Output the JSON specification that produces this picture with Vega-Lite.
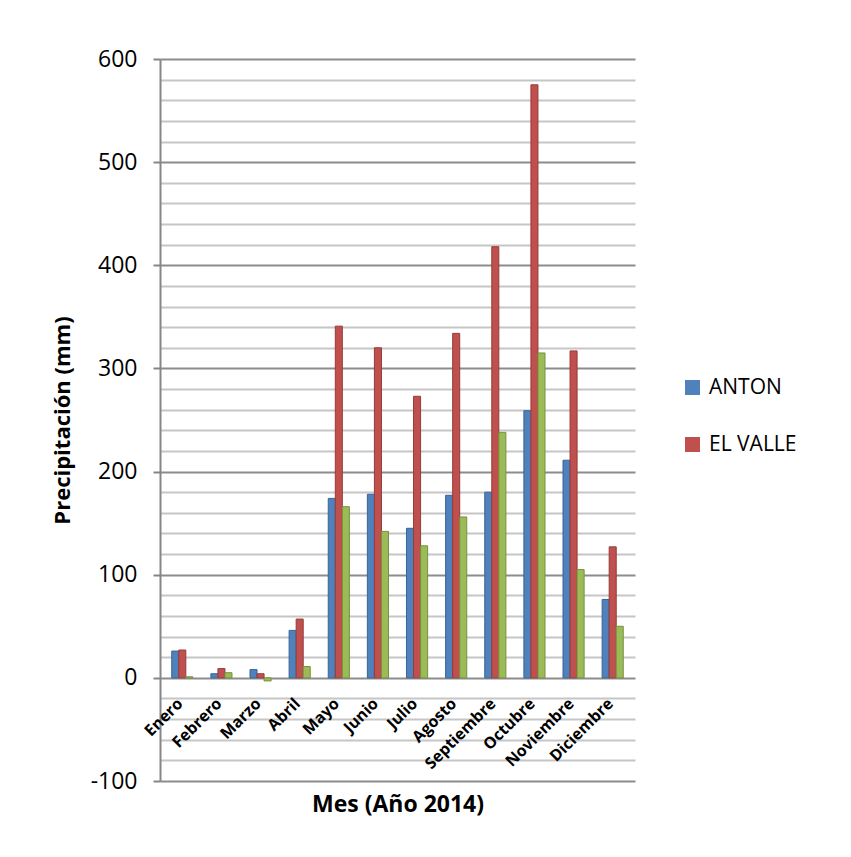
{
  "$schema": "https://vega.github.io/schema/vega-lite/v6.json",
  "width": 475,
  "height": 722,
  "autosize": {"type": "none"},
  "padding": {"left": 160, "top": 59, "right": 216, "bottom": 76},
  "background": "white",
  "config": {"font": "Open Sans", "view": {"stroke": null}},
  "datasets": {
    "lluvia": [
      {"mes": "Enero", "serie": "ANTON", "valor": 26},
      {"mes": "Enero", "serie": "EL VALLE", "valor": 27},
      {"mes": "Enero", "serie": "Serie3", "valor": 1},
      {"mes": "Febrero", "serie": "ANTON", "valor": 4},
      {"mes": "Febrero", "serie": "EL VALLE", "valor": 9},
      {"mes": "Febrero", "serie": "Serie3", "valor": 5},
      {"mes": "Marzo", "serie": "ANTON", "valor": 8},
      {"mes": "Marzo", "serie": "EL VALLE", "valor": 4},
      {"mes": "Marzo", "serie": "Serie3", "valor": -3},
      {"mes": "Abril", "serie": "ANTON", "valor": 46},
      {"mes": "Abril", "serie": "EL VALLE", "valor": 57},
      {"mes": "Abril", "serie": "Serie3", "valor": 11},
      {"mes": "Mayo", "serie": "ANTON", "valor": 174},
      {"mes": "Mayo", "serie": "EL VALLE", "valor": 341},
      {"mes": "Mayo", "serie": "Serie3", "valor": 166},
      {"mes": "Junio", "serie": "ANTON", "valor": 178},
      {"mes": "Junio", "serie": "EL VALLE", "valor": 320},
      {"mes": "Junio", "serie": "Serie3", "valor": 142},
      {"mes": "Julio", "serie": "ANTON", "valor": 145},
      {"mes": "Julio", "serie": "EL VALLE", "valor": 273},
      {"mes": "Julio", "serie": "Serie3", "valor": 128},
      {"mes": "Agosto", "serie": "ANTON", "valor": 177},
      {"mes": "Agosto", "serie": "EL VALLE", "valor": 334},
      {"mes": "Agosto", "serie": "Serie3", "valor": 156},
      {"mes": "Septiembre", "serie": "ANTON", "valor": 180},
      {"mes": "Septiembre", "serie": "EL VALLE", "valor": 418},
      {"mes": "Septiembre", "serie": "Serie3", "valor": 238},
      {"mes": "Octubre", "serie": "ANTON", "valor": 259},
      {"mes": "Octubre", "serie": "EL VALLE", "valor": 575},
      {"mes": "Octubre", "serie": "Serie3", "valor": 315},
      {"mes": "Noviembre", "serie": "ANTON", "valor": 211},
      {"mes": "Noviembre", "serie": "EL VALLE", "valor": 317},
      {"mes": "Noviembre", "serie": "Serie3", "valor": 105},
      {"mes": "Diciembre", "serie": "ANTON", "valor": 76},
      {"mes": "Diciembre", "serie": "EL VALLE", "valor": 127},
      {"mes": "Diciembre", "serie": "Serie3", "valor": 50}
    ],
    "meses": [
      {"mes": "Enero"}, {"mes": "Febrero"}, {"mes": "Marzo"}, {"mes": "Abril"},
      {"mes": "Mayo"}, {"mes": "Junio"}, {"mes": "Julio"}, {"mes": "Agosto"},
      {"mes": "Septiembre"}, {"mes": "Octubre"}, {"mes": "Noviembre"}, {"mes": "Diciembre"}
    ]
  },
  "layer": [
    {
      "data": {"name": "lluvia"},
      "mark": {"type": "bar", "strokeWidth": 1},
      "encoding": {
        "x": {
          "field": "mes",
          "type": "nominal",
          "sort": ["Enero", "Febrero", "Marzo", "Abril", "Mayo", "Junio", "Julio", "Agosto", "Septiembre", "Octubre", "Noviembre", "Diciembre"],
          "scale": {"paddingInner": 0.46, "paddingOuter": 0.3},
          "axis": {
            "title": "Mes (Año 2014)",
            "labels": false,
            "ticks": false,
            "domain": false,
            "titleFont": "Open Sans",
            "titleFontSize": 23,
            "titleFontWeight": "bold",
            "titleColor": "black",
            "titlePadding": 12
          }
        },
        "xOffset": {"field": "serie", "type": "nominal", "sort": ["ANTON", "EL VALLE", "Serie3"]},
        "y": {
          "field": "valor",
          "type": "quantitative",
          "scale": {"domain": [-100, 600], "nice": false, "zero": false},
          "axis": {
            "title": "Precipitación (mm)",
            "titleFont": "Open Sans",
            "titleFontSize": 22,
            "titleFontWeight": "bold",
            "titleColor": "black",
            "titlePadding": 16,
            "tickCount": 60,
            "values": [-100, -80, -60, -40, -20, 0, 20, 40, 60, 80, 100, 120, 140, 160, 180, 200, 220, 240, 260, 280, 300, 320, 340, 360, 380, 400, 420, 440, 460, 480, 500, 520, 540, 560, 580, 600],
            "labelExpr": "datum.value % 100 === 0 ? '' + datum.value : ''",
            "labelFont": "Open Sans",
            "labelFontSize": 23,
            "labelColor": "black",
            "labelPadding": 16,
            "labelFlush": false,
            "labelOverlap": false,
            "tickSize": 7,
            "tickWidth": 2,
            "tickColor": "#868686",
            "tickOpacity": {"condition": {"test": "datum.value % 100 === 0", "value": 1}, "value": 0},
            "domainColor": "#868686",
            "domainWidth": 2,
            "grid": true,
            "gridWidth": 2,
            "gridColor": {"condition": {"test": "datum.value % 100 === 0", "value": "#8c8c8c"}, "value": "#c6c6c6"}
          }
        },
        "color": {
          "field": "serie",
          "type": "nominal",
          "scale": {"domain": ["ANTON", "EL VALLE", "Serie3"], "range": ["#4F81BD", "#C0504D", "#9BBB59"]},
          "legend": {
            "values": ["ANTON", "EL VALLE"],
            "orient": "none",
            "legendX": 522,
            "legendY": 318,
            "title": null,
            "symbolType": "square",
            "symbolSize": 225,
            "symbolStrokeWidth": 0,
            "labelFont": "Open Sans",
            "labelFontSize": 21,
            "labelColor": "black",
            "labelOffset": 6,
            "rowPadding": 35
          }
        },
        "stroke": {
          "field": "serie",
          "type": "nominal",
          "scale": {"domain": ["ANTON", "EL VALLE", "Serie3"], "range": ["#3A6396", "#943C3A", "#76923C"]},
          "legend": null
        }
      }
    },
    {
      "data": {"name": "meses"},
      "mark": {
        "type": "text",
        "angle": 315,
        "align": "right",
        "baseline": "middle",
        "dx": -18,
        "dy": 15,
        "font": "Open Sans",
        "fontSize": 16,
        "fontWeight": "bold",
        "color": "black"
      },
      "encoding": {
        "x": {
          "field": "mes",
          "type": "nominal",
          "sort": ["Enero", "Febrero", "Marzo", "Abril", "Mayo", "Junio", "Julio", "Agosto", "Septiembre", "Octubre", "Noviembre", "Diciembre"]
        },
        "y": {"datum": 0},
        "text": {"field": "mes"}
      }
    }
  ]
}
